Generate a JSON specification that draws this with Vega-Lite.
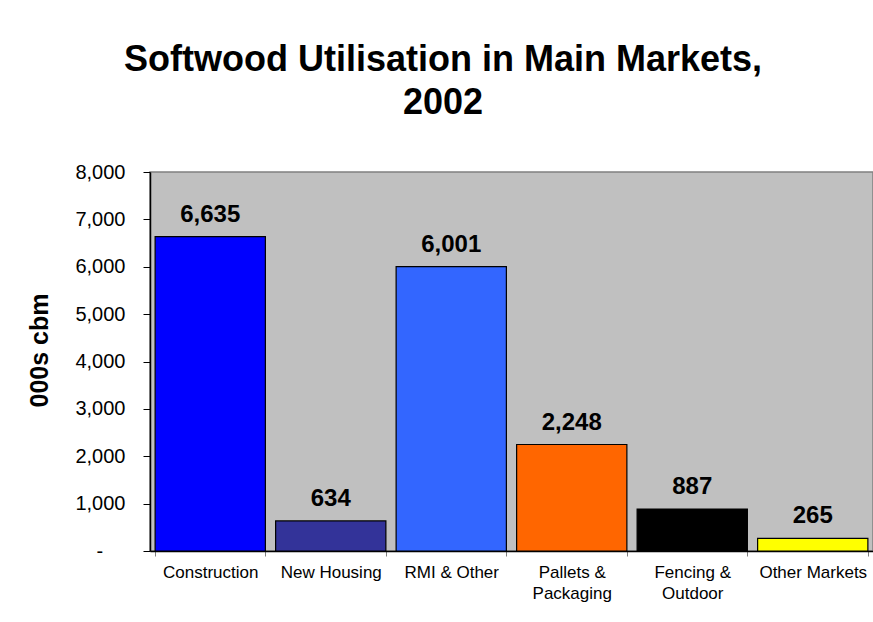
{
  "$schema": "https://vega.github.io/schema/vega-lite/v6.json",
  "autosize": "none",
  "width": 723,
  "height": 379,
  "padding": {"left": 150, "top": 172, "right": 0, "bottom": 71},
  "background": "white",
  "title": {
    "text": ["Softwood Utilisation in Main Markets,", "2002"],
    "font": "Liberation Sans",
    "fontSize": 36,
    "fontWeight": "bold",
    "color": "black",
    "anchor": "middle",
    "frame": "bounds",
    "lineHeight": 43,
    "offset": 40,
    "dx": -7
  },
  "data": {
    "values": [
      {"market": "Construction", "volume": 6635},
      {"market": "New Housing", "volume": 634},
      {"market": "RMI & Other", "volume": 6001},
      {"market": "Pallets & Packaging", "volume": 2248},
      {"market": "Fencing & Outdoor", "volume": 887},
      {"market": "Other Markets", "volume": 265}
    ]
  },
  "encoding": {
    "x": {
      "field": "market",
      "type": "nominal",
      "sort": null,
      "scale": {"paddingInner": 0.085, "paddingOuter": 0.0425},
      "axis": {
        "title": null,
        "labelAngle": 0,
        "labelFont": "Liberation Sans",
        "labelFontSize": 17,
        "labelColor": "black",
        "labelPadding": 8,
        "labelLineHeight": 21,
        "labelExpr": "datum.label === 'Pallets & Packaging' ? ['Pallets &', 'Packaging'] : datum.label === 'Fencing & Outdoor' ? ['Fencing &', 'Outdoor'] : datum.label",
        "tickBand": "extent",
        "tickSize": 5,
        "tickColor": "#808080",
        "domainColor": "black",
        "domainWidth": 1.5
      }
    },
    "y": {
      "field": "volume",
      "type": "quantitative",
      "scale": {"domain": [0, 8000], "nice": false},
      "axis": {
        "title": "000s cbm",
        "titleFont": "Liberation Sans",
        "titleFontSize": 25,
        "titleFontWeight": "bold",
        "titleColor": "black",
        "titleX": -98,
        "titleY": 178,
        "values": [0, 1000, 2000, 3000, 4000, 5000, 6000, 7000, 8000],
        "labelExpr": "datum.value === 0 ? '-\u00a0\u00a0\u00a0\u00a0\u200b' : format(datum.value, ',')",
        "labelFont": "Liberation Sans",
        "labelFontSize": 20,
        "labelColor": "black",
        "labelPadding": 18,
        "tickSize": 7,
        "tickColor": "black",
        "domainColor": "black",
        "domainWidth": 1.5,
        "grid": false
      }
    }
  },
  "layer": [
    {
      "mark": {"type": "bar", "stroke": "black", "strokeWidth": 1.2},
      "encoding": {
        "color": {
          "field": "market",
          "type": "nominal",
          "sort": null,
          "scale": {
            "domain": ["Construction", "New Housing", "RMI & Other", "Pallets & Packaging", "Fencing & Outdoor", "Other Markets"],
            "range": ["#0000FF", "#333399", "#3366FF", "#FF6600", "#000000", "#FFFF00"]
          },
          "legend": null
        }
      }
    },
    {
      "mark": {
        "type": "text",
        "font": "Liberation Sans",
        "fontSize": 24,
        "fontWeight": "bold",
        "color": "black",
        "baseline": "alphabetic",
        "dy": -15
      },
      "encoding": {
        "text": {"field": "volume", "type": "quantitative", "format": ","}
      }
    }
  ],
  "config": {
    "view": {"fill": "#C0C0C0", "stroke": "#808080", "strokeWidth": 1.5}
  }
}
